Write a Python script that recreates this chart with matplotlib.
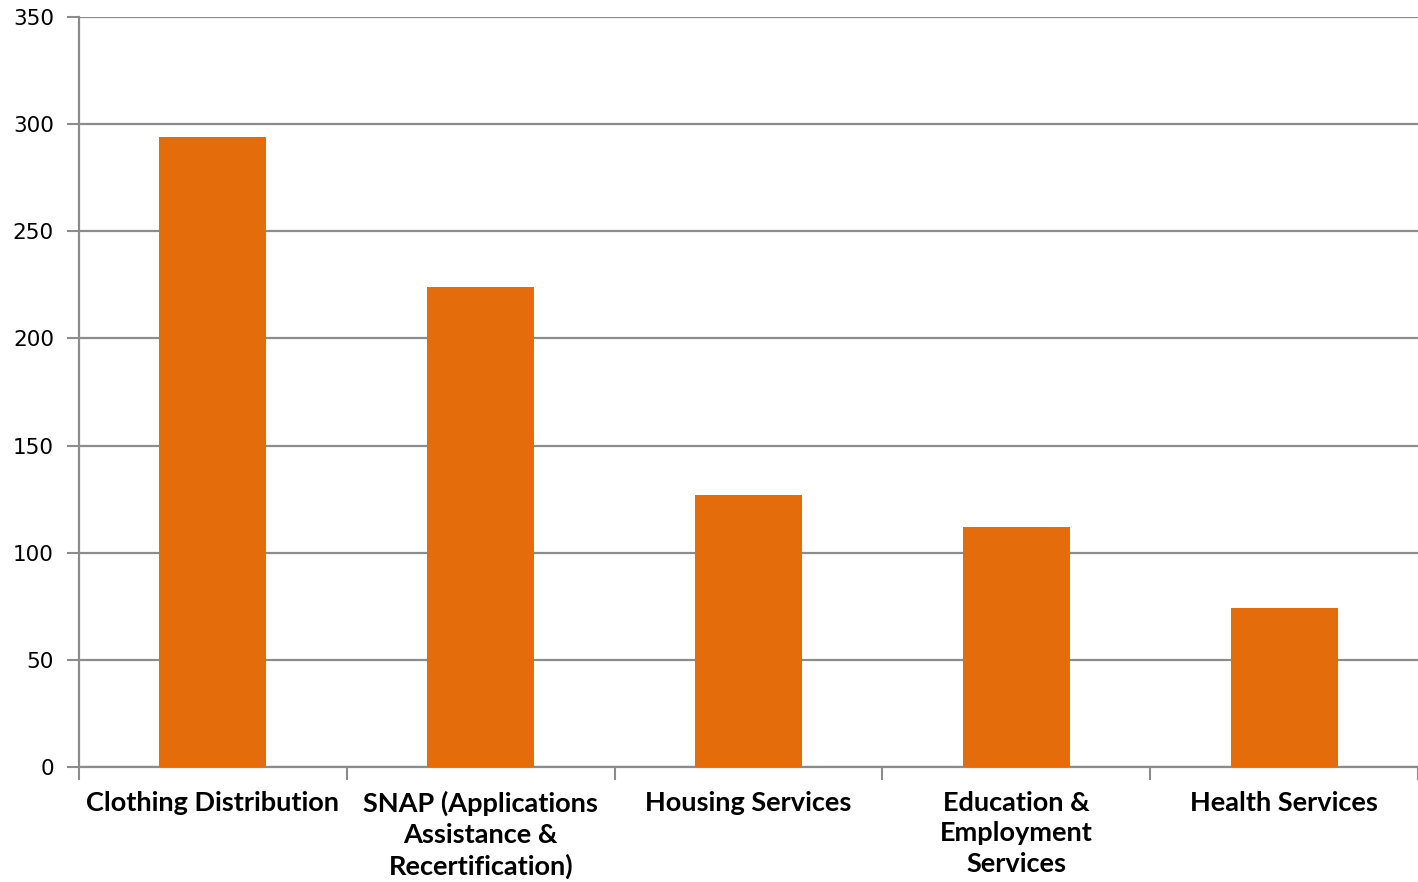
import matplotlib
matplotlib.use("Agg")
import matplotlib.pyplot as plt
import numpy as np

categories = ["Clothing Distribution", "SNAP (Applications\nAssistance &\nRecertification)",
              "Housing Services", "Education &\nEmployment\nServices", "Health Services"]
values = [294, 224, 127, 112, 74]
yticks = [0, 50, 100, 150, 200, 250, 300, 350]

fig = plt.figure(figsize=(14.18, 8.82), dpi=100)
ax = fig.add_axes([79/1418, 1-767/882, 1-79/1418, (767-17)/882])

x = np.arange(len(categories))
ax.bar(x, values, width=0.4, color="#E46C0A", zorder=3)

ax.set_xlim(-0.5, len(categories)-0.5)
ax.set_ylim(0, 350)
ax.set_yticks(yticks)
ax.set_yticklabels([str(v) for v in yticks], fontsize=15.5, family="DejaVu Sans")
ax.grid(axis="y", color="#8c8c8c", linewidth=1.6, zorder=0)
ax.set_axisbelow(True)

ax.set_xticks(x)
ax.set_xticklabels(categories, fontsize=19.5, fontweight="bold", family="Lato", linespacing=1.33)
ax.tick_params(axis="x", which="major", length=0, pad=17)
ax.set_xticks(np.arange(len(categories)+1) - 0.5, minor=True)
ax.tick_params(axis="x", which="minor", length=9, width=1.5, color="#8c8c8c", direction="out")
ax.tick_params(axis="y", length=9, width=1.5, color="#8c8c8c", pad=9)

for s in ["top", "right"]:
    ax.spines[s].set_visible(False)
for s in ["left", "bottom"]:
    ax.spines[s].set_color("#8c8c8c")
    ax.spines[s].set_linewidth(1.6)

fig.savefig("out.png", dpi=100)
